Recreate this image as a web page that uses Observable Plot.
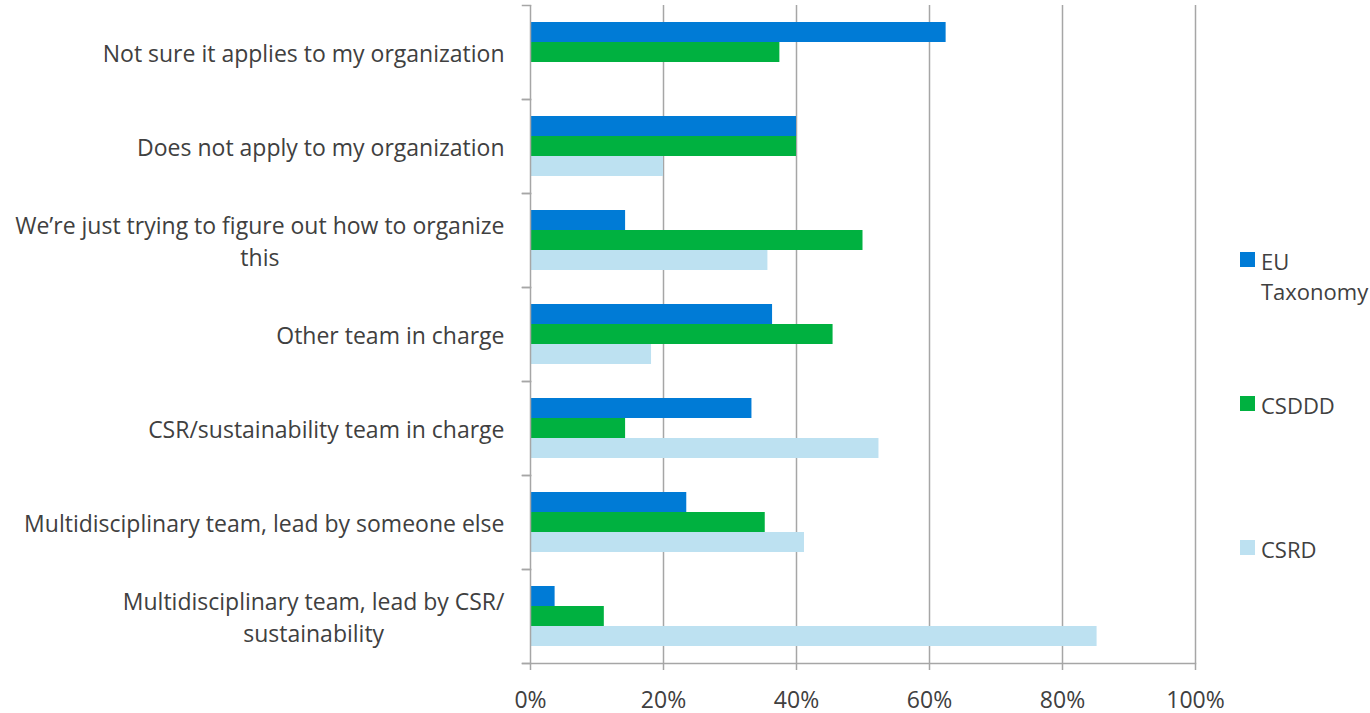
<!DOCTYPE html>
<html>
<head>
<meta charset="utf-8">
<script src="https://cdn.jsdelivr.net/npm/d3@7"></script>
<script src="https://cdn.jsdelivr.net/npm/@observablehq/plot@0.6"></script>
<style>
  html, body { margin: 0; padding: 0; background: #fff; overflow: hidden; }
  #wrap { position: relative; width: 1370px; height: 713px; }
  .legend-item { position: absolute; left: 1240px; display: flex; align-items: flex-start; }
  .swatch { width: 15px; height: 15px; flex: none; }
  .legend-text { margin-left: 6px; width: 100px; font: 22px "Open Sans", sans-serif; color: #404040; line-height: 30px; margin-top: -6px; white-space: normal; }
</style>
</head>
<body>
<div id="wrap"></div>
<script>
// ---- data ----
const categories = [
  "Not sure it applies to my organization",
  "Does not apply to my organization",
  "We’re just trying to figure out how to organize\nthis",
  "Other team in charge",
  "CSR/sustainability team in charge",
  "Multidisciplinary team, lead by someone else",
  "Multidisciplinary team, lead by CSR/\nsustainability"
];
const series = ["EU Taxonomy", "CSDDD", "CSRD"];
const euTaxonomy = [0.625, 0.40, 0.143, 0.364, 0.333, 0.235, 0.037];
const csddd      = [0.375, 0.40, 0.500, 0.455, 0.143, 0.353, 0.111];
const csrd       = [0.000, 0.20, 0.357, 0.182, 0.524, 0.412, 0.852];
const xTicks = [0, 0.2, 0.4, 0.6, 0.8, 1];
const colors = ["#007BD6", "#00B140", "#BDE1F1"];

// ---- table ----
const valuesBySeries = [euTaxonomy, csddd, csrd];
const rows = [];
categories.forEach((c, i) => {
  series.forEach((s, j) => rows.push({category: c, series: s, value: valuesBySeries[j][i]}));
});

// ---- layout ----
const W = 1370, H = 713;
const mL = 530, mR = 175, mT = 3, mB = 49;
const innerW = W - mL - mR;
const fontSize = 23;
const fontFamily = "Open Sans";
const font = `${fontSize}px "${fontFamily}"`;
const textColor = "#404040";
const lineColor = "#a6a6a6";
const labelGap = 26;

const ctx = document.createElement("canvas").getContext("2d");
ctx.font = font;
const labelWidth = s => d3.max(s.split("\n"), l => ctx.measureText(l).width);

const labelMarks = categories.map(c => Plot.text([c], {
  fy: d => d,
  text: d => d,
  frameAnchor: "left",
  textAnchor: "middle",
  lineAnchor: "middle",
  lineHeight: 1.4,
  dx: -(labelGap + labelWidth(c) / 2),
  dy: -1,
  fill: textColor
}));

const chart = Plot.plot({
  width: W, height: H,
  marginLeft: mL, marginRight: mR, marginTop: mT, marginBottom: mB,
  style: {fontFamily: fontFamily, fontSize: `${fontSize}px`, color: textColor, background: "white", overflow: "visible"},
  x: {domain: [0, 1], axis: null, label: null},
  y: {domain: series, paddingInner: 0, paddingOuter: 0.75, axis: null},
  fy: {domain: categories, padding: 0, axis: null},
  color: {domain: series, range: colors},
  marks: [
    Plot.gridX(xTicks.slice(1), {stroke: lineColor, strokeOpacity: 1, strokeWidth: 1.5}),
    Plot.barX(rows.filter(d => d.value > 0), {fy: "category", y: "series", x: "value", fill: "series"}),
    Plot.ruleX([0], {stroke: lineColor, strokeWidth: 1.5}),
    Plot.frame({anchor: "top", insetLeft: -8, insetRight: innerW, stroke: lineColor, strokeWidth: 1.5}),
    Plot.frame({anchor: "bottom", insetLeft: -8, insetRight: innerW, stroke: lineColor, strokeWidth: 1.5}),
    Plot.frame({anchor: "bottom", facetAnchor: "bottom", insetLeft: -8, stroke: lineColor, strokeWidth: 1.5}),
    Plot.axisX({ticks: xTicks, tickFormat: d3.format(".0%"), tickSize: 7, tickPadding: 21, label: null,
                stroke: lineColor, strokeWidth: 1.5, fill: textColor, fontSize: fontSize}),
    ...labelMarks
  ]
});

const wrap = document.getElementById("wrap");
wrap.appendChild(chart);

// legend on the right
series.forEach((s, i) => {
  const item = document.createElement("div");
  item.className = "legend-item";
  item.style.top = (252 + i * 144) + "px";
  const sw = document.createElement("div");
  sw.className = "swatch";
  sw.style.background = colors[i];
  const tx = document.createElement("div");
  tx.className = "legend-text";
  tx.textContent = s;
  item.appendChild(sw);
  item.appendChild(tx);
  wrap.appendChild(item);
});
</script>
</body>
</html>
